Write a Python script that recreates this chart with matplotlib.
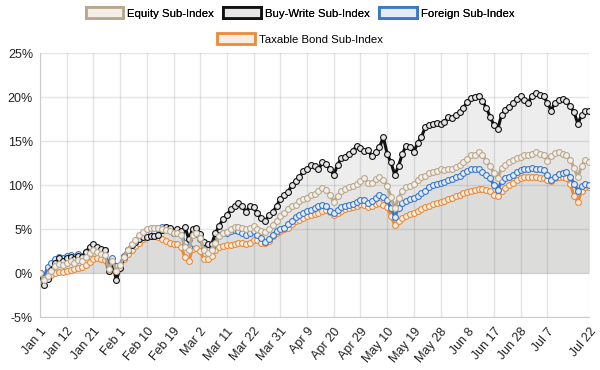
import matplotlib.pyplot as plt
from matplotlib.patches import Patch
import numpy as np

plt.rcParams['font.family'] = ['Liberation Sans', 'DejaVu Sans']

tick_labels = ["Jan 1", "Jan 12", "Jan 21", "Feb 1", "Feb 10", "Feb 19", "Mar 2",
               "Mar 11", "Mar 22", "Mar 31", "Apr 9", "Apr 20", "Apr 29", "May 10",
               "May 19", "May 28", "Jun 8", "Jun 17", "Jun 28", "Jul 7", "Jul 22"]
tick_step = 7

# cumulative return, % (one value per trading day)
equity = [
    0.0, -0.8, -0.3, 0.3, 0.8, 1.1, 1.0, 1.2, 1.4, 1.2,
    1.5, 1.4, 1.8, 2.3, 2.6, 2.4, 2.2, 2.1, 0.5, 1.4,
    0.3, 0.9, 1.9, 2.7, 3.3, 3.8, 4.3, 4.7, 5.0, 5.2,
    5.2, 5.1, 5.0, 4.9, 4.8, 4.6, 4.6, 4.3, 3.0, 2.6,
    4.4, 4.6, 4.0, 2.6, 2.3, 2.6, 3.4, 4.2, 4.6, 4.7,
    5.0, 5.3, 5.3, 5.1, 5.0, 5.2, 5.4, 5.0, 4.8, 4.7,
    5.0, 5.5, 6.0, 6.5, 6.9, 7.3, 7.6, 7.8, 8.2, 8.4,
    8.6, 8.9, 9.0, 9.3, 9.7, 9.5, 8.9, 8.1, 8.8, 9.3,
    9.6, 9.8, 9.9, 10.2, 10.5, 10.8, 10.3, 10.3, 10.7, 11.0,
    10.6, 9.9, 8.7, 7.4, 8.6, 9.3, 9.8, 9.9, 10.1, 10.6,
    11.0, 11.1, 11.4, 11.5, 11.6, 11.8, 11.7, 11.9, 11.8, 12.1,
    12.3, 12.7, 13.0, 13.4, 13.5, 13.8, 13.4, 12.8, 12.2, 11.4,
    10.8, 12.0, 12.3, 12.6, 12.9, 13.1, 13.2, 13.4, 13.5, 13.6,
    13.8, 13.6, 13.5, 12.8, 13.3, 13.7, 13.8, 13.6, 13.4, 12.9,
    12.0, 10.9, 12.2, 12.9, 12.7]

buy_write = [
    0.0, -1.3, -0.6, 0.4, 1.2, 1.7, 1.4, 1.7, 1.9, 1.6,
    2.0, 1.8, 2.4, 3.0, 3.3, 3.0, 2.8, 2.6, 0.3, 1.3,
    -0.8, 0.6, 1.8, 2.6, 3.2, 3.6, 3.9, 4.1, 4.1, 4.2,
    4.2, 4.3, 4.9, 5.3, 5.1, 4.6, 5.0, 4.8, 5.3, 3.9,
    5.0, 5.1, 4.5, 3.6, 3.3, 3.3, 4.6, 5.4, 6.2, 6.6,
    7.3, 7.6, 8.0, 7.6, 7.0, 7.6, 7.5, 6.8, 6.3, 5.9,
    6.6, 7.0, 7.6, 8.5, 8.9, 9.2, 10.0, 10.5, 10.9, 11.6,
    11.8, 12.3, 12.2, 11.8, 12.6, 12.4, 11.8, 11.2, 12.3, 13.1,
    13.2, 13.6, 13.9, 14.5, 14.2, 13.9, 14.0, 13.3, 13.8, 14.3,
    15.5, 13.6, 12.6, 11.2, 12.2, 13.6, 14.5, 14.3, 13.8, 14.8,
    15.5, 16.6, 16.8, 17.0, 17.1, 17.0, 17.2, 17.8, 17.6, 18.0,
    18.3, 18.8, 19.5, 19.9, 20.0, 20.2, 19.6, 18.8, 17.8, 16.8,
    16.4, 18.0, 18.6, 18.9, 19.4, 19.8, 20.1, 19.7, 19.4, 20.2,
    20.5, 20.3, 20.1, 19.4, 18.5, 19.4, 19.7, 19.8, 19.6, 19.0,
    18.3, 17.0, 18.0, 18.4, 18.5]

foreign = [
    0.0, -0.5, 0.7, 1.2, 1.6, 1.9, 1.7, 2.0, 2.1, 1.9,
    2.2, 2.0, 2.4, 2.7, 2.8, 2.6, 2.7, 2.7, 0.6, 1.7,
    0.8, 1.0, 2.0, 2.7, 3.2, 3.6, 4.0, 4.2, 4.5, 4.7,
    4.8, 5.1, 5.3, 5.2, 5.0, 4.6, 4.8, 4.6, 3.4, 3.0,
    4.6, 4.5, 3.9, 2.8, 2.6, 2.9, 3.6, 4.3, 4.6, 4.6,
    4.8, 4.9, 4.8, 4.6, 4.4, 4.6, 4.8, 4.3, 4.0, 3.6,
    3.9, 4.4, 4.8, 5.0, 5.2, 5.6, 6.0, 6.4, 6.6, 6.9,
    7.1, 7.2, 7.4, 7.6, 7.8, 7.6, 7.1, 6.8, 7.2, 7.5,
    7.7, 7.8, 7.9, 8.1, 8.3, 8.3, 8.0, 8.2, 8.6, 8.9,
    8.7, 8.3, 7.4, 6.4, 7.4, 8.0, 8.2, 8.4, 8.6, 8.8,
    9.1, 9.4, 9.8, 10.0, 10.1, 10.3, 10.4, 10.6, 10.7, 10.9,
    11.1, 11.4, 11.6, 11.8, 11.9, 11.9, 11.5, 11.2, 10.8, 10.0,
    9.5, 10.5, 10.8, 11.0, 11.2, 11.5, 11.7, 11.8, 11.8, 12.0,
    11.9, 11.8, 11.7, 11.2, 10.6, 11.0, 11.3, 11.4, 11.5, 11.0,
    10.2, 9.4, 9.9, 10.1, 10.0]

taxable_bond = [
    0.0, -0.6, -0.4, -0.2, 0.0, 0.1, 0.2, 0.3, 0.4, 0.5,
    0.6, 0.7, 0.9, 1.3, 1.6, 1.7, 1.6, 1.5, 0.3, 1.0,
    0.4, 0.8, 1.6, 2.2, 2.7, 3.1, 3.5, 3.9, 4.1, 4.2,
    4.2, 4.1, 3.9, 3.7, 3.5, 3.3, 3.3, 3.0, 1.8, 1.4,
    2.8, 2.9, 2.5, 1.6, 1.6, 2.0, 2.6, 3.0, 3.1, 3.2,
    3.2, 3.3, 3.4, 3.4, 3.3, 3.5, 3.8, 3.8, 3.5, 3.4,
    3.7, 4.2, 4.6, 4.8, 5.0, 5.2, 5.6, 5.9, 6.1, 6.3,
    6.5, 6.6, 6.7, 6.9, 7.1, 7.2, 7.0, 6.6, 6.8, 7.1,
    7.3, 7.4, 7.5, 7.7, 7.9, 7.8, 7.5, 7.6, 7.9, 8.0,
    7.8, 7.5, 6.5, 5.5, 6.0, 6.3, 6.5, 6.7, 6.9, 7.1,
    7.3, 7.5, 7.7, 7.9, 8.0, 8.1, 8.2, 8.4, 8.6, 8.8,
    8.9, 9.1, 9.2, 9.4, 9.5, 9.6, 9.6, 9.5, 9.3, 8.9,
    8.8, 9.3, 9.7, 10.0, 10.3, 10.6, 10.8, 10.9, 11.0, 11.0,
    10.9, 10.8, 10.8, 10.6, 10.5, 10.8, 11.0, 11.0, 10.8, 10.1,
    8.8, 8.1, 9.4, 9.8, 9.8]

x = np.arange(len(equity))

# name, values, line colour, fill colour (legend / markers), fill alpha
series = [
    ("Equity Sub-Index", equity, "#b8a88d", "#f3efe8", 0.10),
    ("Buy-Write Sub-Index", buy_write, "#111111", "#e6e6e6", 0.075),
    ("Foreign Sub-Index", foreign, "#3b77c6", "#e4ecf7", 0.06),
    ("Taxable Bond Sub-Index", taxable_bond, "#e98b3b", "#f9ece0", 0.03),
]

fig = plt.figure(figsize=(6, 3.7), dpi=100)
ax = fig.add_axes([40 / 600, 1 - 317.3 / 370, 549.3 / 600, 264 / 370])

# fills first (under all lines), last dataset lowest
for name, vals, lc, fc, a in reversed(series):
    ax.fill_between(x, vals, 0, color=lc, alpha=a, lw=0, zorder=1)
for i, (name, vals, lc, fc, a) in enumerate(reversed(series)):
    ax.plot(x, vals, color=lc, lw=2.2, marker='o', ms=4.2, mfc=fc, mec=lc,
            mew=0.8, zorder=3 + i)

ax.set_xlim(0, len(x) - 1)
ax.set_ylim(-5, 25)
ticks = list(range(0, len(x) - 1, tick_step))[:len(tick_labels) - 1] + [len(x) - 1]
ax.set_xticks(ticks)
ax.set_xticklabels(tick_labels, rotation=50, ha='right', rotation_mode='anchor',
                   fontsize=9, color='#222222')
ax.set_yticks(range(-5, 26, 5))
ax.set_yticklabels([f"{v}%" for v in range(-5, 26, 5)], fontsize=9, color='#222222')
ax.tick_params(length=0, pad=5)
ax.tick_params(axis='x', pad=6)
ax.grid(True, color='#000000', alpha=0.1, lw=1)
ax.set_axisbelow(True)
for s in ['top', 'right']:
    ax.spines[s].set_visible(False)
for s in ['left', 'bottom']:
    ax.spines[s].set_color('#cccccc')

handles = [Patch(facecolor=fc, edgecolor=lc, lw=2, label=name)
           for name, vals, lc, fc, a in series]
leg_kw = dict(frameon=False, fontsize=8.2, handlelength=3.3, handleheight=1.15,
              handletextpad=0.35, columnspacing=0.8, borderaxespad=0, borderpad=0)
leg1 = fig.legend(handles=handles[:3], ncol=3, loc='upper center',
                  bbox_to_anchor=(0.5, 1 - 7 / 370), **leg_kw)
fig.add_artist(leg1)
fig.legend(handles=handles[3:], ncol=1, loc='upper center',
           bbox_to_anchor=(0.5, 1 - 33 / 370), **leg_kw)

fig.savefig("out.png", dpi=100)
